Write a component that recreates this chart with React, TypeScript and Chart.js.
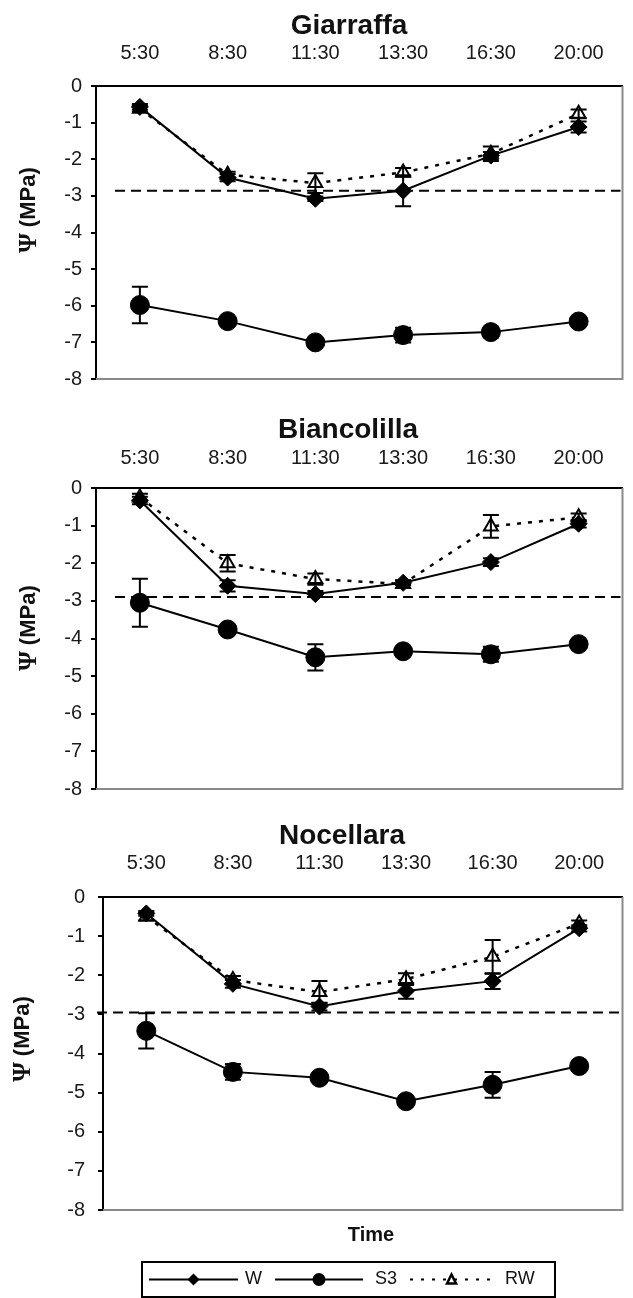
import React, { useEffect, useRef } from "react";
import { Chart, registerables } from "chart.js";

Chart.register(...registerables);

const FONT = "Arial, 'Liberation Sans', Helvetica, sans-serif";
const SERIF = "'Liberation Serif', 'Times New Roman', 'DejaVu Serif', serif";

const times = ["5:30", "8:30", "11:30", "13:30", "16:30", "20:00"];
const yMin = -8;
const yMax = 0;
const yStep = 1;

// Giarraffa
const giarW = [-0.57, -2.5, -3.08, -2.86, -1.9, -1.12];
const giarWErr = [0.08, 0.1, 0.06, 0.42, 0.1, 0.15];
const giarS3 = [-5.98, -6.42, -7.0, -6.8, -6.72, -6.43];
const giarS3Err = [0.5, 0.08, 0.05, 0.2, 0.15, 0.12];
const giarRW = [-0.62, -2.42, -2.65, -2.36, -1.85, -0.76];
const giarRWErr = [0.08, 0.08, 0.27, 0.12, 0.2, 0.12];
const giarThreshold = -2.86;

// Biancolilla
const bianW = [-0.33, -2.6, -2.82, -2.52, -1.97, -0.95];
const bianWErr = [0.1, 0.15, 0.08, 0.06, 0.1, 0.1];
const bianS3 = [-3.05, -3.76, -4.5, -4.34, -4.42, -4.15];
const bianS3Err = [0.64, 0.1, 0.35, 0.08, 0.2, 0.08];
const bianRW = [-0.25, -2.0, -2.42, -2.55, -1.02, -0.78];
const bianRWErr = [0.1, 0.22, 0.15, 0.1, 0.3, 0.1];
const bianThreshold = -2.9;

// Nocellara
const nocW = [-0.42, -2.22, -2.8, -2.4, -2.15, -0.8];
const nocWErr = [0.06, 0.1, 0.1, 0.2, 0.2, 0.08];
const nocS3 = [-3.42, -4.47, -4.62, -5.22, -4.8, -4.32];
const nocS3Err = [0.45, 0.2, 0.08, 0.06, 0.33, 0.08];
const nocRW = [-0.5, -2.12, -2.43, -2.1, -1.53, -0.68];
const nocRWErr = [0.1, 0.1, 0.28, 0.15, 0.43, 0.08];
const nocThreshold = -2.95;

const seriesNames = ["W", "S3", "RW"];
const yTitleSymbol = "\u03A8";
const yTitleUnit = " (MPa)";
const xTitle = "Time";

type Panel = {
  title: string;
  w: number[]; wErr: number[];
  s3: number[]; s3Err: number[];
  rw: number[]; rwErr: number[];
  threshold: number;
  top: number; height: number;
  plotTop: number; plotBottom: number; plotLeft: number; plotRight: number;
  xLabelPad: number; yLabelPad: number;
  titleX: number; titleY: number;
  yTitleX: number; yTitleY: number;
  dashStart: number;
  showTime?: boolean; timeX?: number; timeY?: number;
  showLegend?: boolean;
};

const panels: Panel[] = [
  {
    title: "Giarraffa", w: giarW, wErr: giarWErr, s3: giarS3, s3Err: giarS3Err, rw: giarRW, rwErr: giarRWErr,
    threshold: giarThreshold, top: 0, height: 400, plotTop: 86, plotBottom: 382, plotLeft: 96, plotRight: 626,
    xLabelPad: 21, yLabelPad: 9, titleX: 349, titleY: 26, yTitleX: 29, yTitleY: 210, dashStart: 115,
  },
  {
    title: "Biancolilla", w: bianW, wErr: bianWErr, s3: bianS3, s3Err: bianS3Err, rw: bianRW, rwErr: bianRWErr,
    threshold: bianThreshold, top: 400, height: 410, plotTop: 88, plotBottom: 391, plotLeft: 96, plotRight: 626,
    xLabelPad: 18, yLabelPad: 9, titleX: 348, titleY: 30, yTitleX: 29, yTitleY: 228, dashStart: 115,
  },
  {
    title: "Nocellara", w: nocW, wErr: nocWErr, s3: nocS3, s3Err: nocS3Err, rw: nocRW, rwErr: nocRWErr,
    threshold: nocThreshold, top: 810, height: 488, plotTop: 87, plotBottom: 400, plotLeft: 103, plotRight: 626,
    xLabelPad: 22, yLabelPad: 13, titleX: 342, titleY: 26, yTitleX: 23, yTitleY: 229, dashStart: 97,
    showTime: true, timeX: 371, timeY: 425, showLegend: true,
  },
];

function drawMarker(ctx: CanvasRenderingContext2D, style: string, x: number, y: number, r: number) {
  ctx.beginPath();
  if (style === "rectRot") {
    ctx.moveTo(x, y - r); ctx.lineTo(x + r, y); ctx.lineTo(x, y + r); ctx.lineTo(x - r, y); ctx.closePath();
    ctx.fillStyle = "#000"; ctx.fill();
  } else if (style === "circle") {
    ctx.arc(x, y, r, 0, Math.PI * 2);
    ctx.fillStyle = "#000"; ctx.fill();
  } else {
    const h = r * 1.6;
    ctx.moveTo(x, y - h / 2 - 1); ctx.lineTo(x + r * 0.9, y + h / 2); ctx.lineTo(x - r * 0.9, y + h / 2); ctx.closePath();
    ctx.fillStyle = "#fff"; ctx.fill();
    ctx.lineWidth = 2.5; ctx.strokeStyle = "#000"; ctx.setLineDash([]); ctx.stroke();
  }
}

function makePlugins(p: Panel) {
  const threshold = {
    id: "threshold",
    beforeDatasetsDraw(chart: any) {
      const { ctx, chartArea } = chart;
      const y = chart.scales.y.getPixelForValue(p.threshold);
      ctx.save();
      ctx.strokeStyle = "#000";
      ctx.lineWidth = 2;
      ctx.setLineDash([10, 6]);
      ctx.beginPath();
      ctx.moveTo(p.dashStart, y);
      ctx.lineTo(chartArea.right - 2, y);
      ctx.stroke();
      ctx.restore();
      ctx.save();
      ctx.strokeStyle = "#8a8a8a";
      ctx.lineWidth = 2;
      ctx.beginPath();
      ctx.moveTo(chartArea.right, chartArea.top);
      ctx.lineTo(chartArea.right, chartArea.bottom);
      ctx.lineTo(chartArea.left, chartArea.bottom);
      ctx.stroke();
      ctx.restore();
    },
  };
  const errorBars = {
    id: "errorBars",
    afterDatasetsDraw(chart: any) {
      const { ctx } = chart;
      const ys = chart.scales.y;
      chart.data.datasets.forEach((ds: any, i: number) => {
        const errs: number[] | undefined = ds.errors;
        if (!errs) return;
        const meta = chart.getDatasetMeta(i);
        ctx.save();
        ctx.strokeStyle = "#000";
        ctx.lineWidth = 2;
        ctx.setLineDash([]);
        meta.data.forEach((pt: any, j: number) => {
          const v = ds.data[j];
          const e = errs[j];
          if (!e) return;
          const x = pt.x;
          const yt = ys.getPixelForValue(v + e);
          const yb = ys.getPixelForValue(v - e);
          ctx.beginPath();
          ctx.moveTo(x, yt); ctx.lineTo(x, yb);
          ctx.moveTo(x - 8, yt); ctx.lineTo(x + 8, yt);
          ctx.moveTo(x - 8, yb); ctx.lineTo(x + 8, yb);
          ctx.stroke();
        });
        ctx.restore();
      });
    },
  };
  const decor = {
    id: "decor",
    afterDraw(chart: any) {
      const { ctx } = chart;
      ctx.save();
      ctx.fillStyle = "#111";
      ctx.textAlign = "center";
      ctx.textBaseline = "middle";
      ctx.font = `bold 28px ${FONT}`;
      ctx.fillText(p.title, p.titleX, p.titleY);

      // rotated y title: serif Psi + sans "(MPa)"
      ctx.save();
      ctx.translate(p.yTitleX, p.yTitleY);
      ctx.rotate(-Math.PI / 2);
      const symFont = `bold 25px ${SERIF}`;
      const unitFont = `bold 22px ${FONT}`;
      ctx.font = symFont;
      const wSym = ctx.measureText(yTitleSymbol).width;
      ctx.font = unitFont;
      const wUnit = ctx.measureText(yTitleUnit).width;
      const start = -(wSym + wUnit) / 2;
      ctx.textAlign = "left";
      ctx.font = symFont;
      ctx.fillText(yTitleSymbol, start, 1);
      ctx.font = unitFont;
      ctx.fillText(yTitleUnit, start + wSym, 0);
      ctx.restore();

      if (p.showTime) {
        ctx.font = `bold 20px ${FONT}`;
        ctx.textAlign = "center";
        ctx.fillText(xTitle, p.timeX!, p.timeY!);
      }
      if (p.showLegend) {
        const top = 452, bottom = 487, left = 142, right = 555;
        const cy = (top + bottom) / 2;
        ctx.strokeStyle = "#000";
        ctx.lineWidth = 2;
        ctx.setLineDash([]);
        ctx.strokeRect(left, top, right - left, bottom - top);
        const items = [
          { name: seriesNames[0], x1: 149, x2: 238, style: "rectRot", r: 6, dash: [] as number[], tx: 245 },
          { name: seriesNames[1], x1: 275, x2: 363, style: "circle", r: 6.5, dash: [] as number[], tx: 375 },
          { name: seriesNames[2], x1: 410, x2: 493, style: "triangle", r: 5, dash: [3, 8], tx: 505 },
        ];
        items.forEach((it) => {
          ctx.save();
          ctx.strokeStyle = "#000";
          ctx.lineWidth = 2;
          ctx.setLineDash(it.dash);
          ctx.beginPath();
          ctx.moveTo(it.x1, cy); ctx.lineTo(it.x2, cy);
          ctx.stroke();
          ctx.setLineDash([]);
          drawMarker(ctx, it.style, (it.x1 + it.x2) / 2, cy, it.r);
          ctx.restore();
          ctx.fillStyle = "#111";
          ctx.font = `18px ${FONT}`;
          ctx.textAlign = "left";
          ctx.textBaseline = "middle";
          ctx.fillText(it.name, it.tx, cy);
        });
      }
      ctx.restore();
    },
  };
  return [threshold, errorBars, decor];
}

function PanelChart({ p }: { p: Panel }) {
  const ref = useRef<HTMLCanvasElement>(null);
  useEffect(() => {
    const canvas = ref.current;
    if (!canvas) return;
    const chart = new Chart(canvas, {
      type: "line",
      data: {
        labels: times,
        datasets: [
          {
            label: seriesNames[0], data: p.w, errors: p.wErr,
            borderColor: "#000", backgroundColor: "#000", borderWidth: 2,
            pointStyle: "rectRot", pointRadius: 8.5, pointBackgroundColor: "#000",
            pointBorderColor: "#000", pointBorderWidth: 1, tension: 0, fill: false,
          } as any,
          {
            label: seriesNames[1], data: p.s3, errors: p.s3Err,
            borderColor: "#000", backgroundColor: "#000", borderWidth: 2,
            pointStyle: "circle", pointRadius: 9.5, pointBackgroundColor: "#000",
            pointBorderColor: "#000", pointBorderWidth: 1, tension: 0, fill: false,
          } as any,
          {
            label: seriesNames[2], data: p.rw, errors: p.rwErr,
            borderColor: "#000", backgroundColor: "#fff", borderWidth: 2.5, borderDash: [4, 7],
            pointStyle: "triangle", pointRadius: 8, pointBackgroundColor: "#fff",
            pointBorderColor: "#000", pointBorderWidth: 2, tension: 0, fill: false,
          } as any,
        ],
      },
      options: {
        responsive: false,
        animation: false,
        events: [],
        layout: { padding: { top: 0, left: 0, right: 633 - p.plotRight, bottom: p.height - p.plotBottom } },
        plugins: { legend: { display: false }, tooltip: { enabled: false }, title: { display: false } },
        scales: {
          x: {
            type: "category",
            position: "top",
            offset: true,
            grid: { display: false, drawTicks: false },
            border: { display: true, color: "#000", width: 2 },
            ticks: { font: { family: FONT, size: 20 }, color: "#1a1a1a", padding: p.xLabelPad, maxRotation: 0, autoSkip: false },
            afterFit: (s: any) => { s.height = p.plotTop; },
          },
          y: {
            min: yMin,
            max: yMax,
            ticks: { stepSize: yStep, font: { family: FONT, size: 20 }, color: "#1a1a1a", padding: p.yLabelPad },
            grid: { display: true, drawOnChartArea: false, drawTicks: true, tickLength: 5, color: "#000", lineWidth: 2 },
            border: { display: true, color: "#000", width: 2 },
            afterFit: (s: any) => { s.width = p.plotLeft; },
          },
        },
      } as any,
      plugins: makePlugins(p) as any,
    });
    return () => chart.destroy();
  }, [p]);
  return (
    <canvas
      ref={ref}
      width={633}
      height={p.height}
      style={{ position: "absolute", left: 0, top: p.top, width: 633, height: p.height, display: "block" }}
    />
  );
}

export default function App() {
  return (
    <div style={{ position: "absolute", left: 0, top: 0, width: 633, height: 1298, background: "#fff", overflow: "hidden" }}>
      {panels.map((p) => (
        <PanelChart key={p.title} p={p} />
      ))}
    </div>
  );
}
